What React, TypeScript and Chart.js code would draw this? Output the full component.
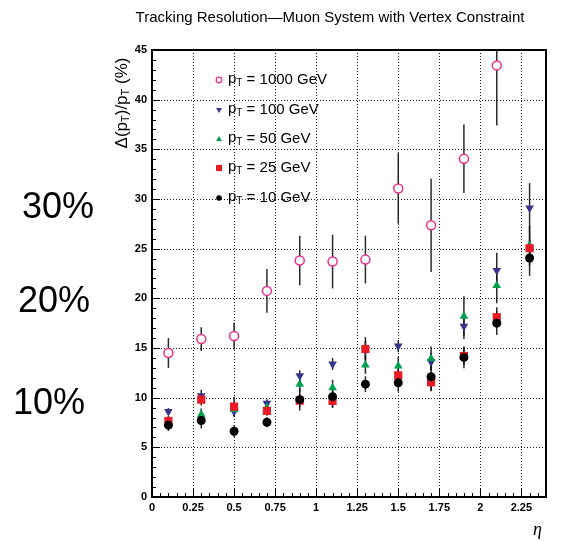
import React, { useEffect, useRef } from "react";
import { Chart, registerables } from "chart.js";

Chart.register(...registerables);

const W = 563;
const H = 542;

const ETA = [0.1, 0.3, 0.5, 0.7, 0.9, 1.1, 1.3, 1.5, 1.7, 1.9, 2.1, 2.3];

const PT1000 = [14.5, 15.9, 16.2, 20.75, 23.8, 23.7, 23.9, 31.05, 27.35, 34.05, 43.45, null];
const PT1000_ERR = [1.5, 1.2, 1.35, 2.2, 2.5, 2.7, 2.4, 3.55, 4.7, 3.45, 6.05, null];

const PT100 = [8.6, 10.2, 8.6, 9.45, 12.2, 13.4, 14.8, 15.2, 13.6, 17.2, 22.8, 29.1];
const PT100_ERR = [0.35, 0.6, 0.5, 0.4, 0.55, 0.6, 0.9, 0.6, 0.9, 1.3, 1.8, 2.5];

const PT50 = [7.6, 8.3, 8.8, 9.0, 11.35, 11.0, 13.3, 13.2, 13.95, 18.2, 21.3, 25.3];
const PT50_ERR = [0.5, 0.6, 0.6, 0.5, 0.8, 0.8, 0.9, 0.9, 1.2, 2.0, 1.8, 2.0];

const PT25 = [7.65, 9.8, 9.1, 8.67, 9.7, 9.68, 14.9, 12.25, 11.55, 14.2, 18.1, 25.05];
const PT25_ERR = [0.5, 0.6, 1.0, 0.5, 0.7, 0.7, 1.2, 0.9, 0.9, 0.9, 1.0, 1.5];

const PT10 = [7.23, 7.7, 6.62, 7.53, 9.8, 10.1, 11.36, 11.5, 12.1, 14.05, 17.5, 24.06];
const PT10_ERR = [0.6, 0.8, 0.6, 0.5, 1.1, 1.1, 0.8, 0.9, 1.4, 1.1, 1.2, 1.8];

const X_TICKS = [0, 0.25, 0.5, 0.75, 1, 1.25, 1.5, 1.75, 2, 2.25];
const X_TICK_LABELS = ["0", "0.25", "0.5", "0.75", "1", "1.25", "1.5", "1.75", "2", "2.25"];
const Y_TICKS = [0, 5, 10, 15, 20, 25, 30, 35, 40, 45];
const Y_TICK_LABELS = ["0", "5", "10", "15", "20", "25", "30", "35", "40", "45"];

const TITLE = "Tracking Resolution\u2014Muon System with Vertex Constraint";
const LEGEND_VALUES = ["1000", "100", "50", "25", "10"];
const SIDE_LABELS = ["30%", "20%", "10%"];

const PINK = "rgb(232,48,140)";
const BLUE = "rgb(52,52,140)";
const GREEN = "rgb(0,160,80)";
const RED = "rgb(232,28,36)";
const BLACK = "rgb(0,0,0)";

type Pt = { x: number; y: number; e: number };

function build(vals: (number | null)[], errs: (number | null)[]): Pt[] {
  const out: Pt[] = [];
  ETA.forEach((x, i) => {
    const v = vals[i];
    if (v !== null && v !== undefined) out.push({ x, y: v, e: (errs[i] as number) || 0 });
  });
  return out;
}

function drawMarker(ctx: CanvasRenderingContext2D, kind: string, x: number, y: number, r: number) {
  ctx.save();
  ctx.beginPath();
  if (kind === "openCircle") {
    ctx.arc(x, y, r, 0, Math.PI * 2);
    ctx.fillStyle = "#fff";
    ctx.fill();
    ctx.strokeStyle = PINK;
    ctx.lineWidth = 1.3;
    ctx.stroke();
  } else if (kind === "triDown") {
    ctx.moveTo(x - r, y - r * 0.7);
    ctx.lineTo(x + r, y - r * 0.7);
    ctx.lineTo(x, y + r);
    ctx.closePath();
    ctx.fillStyle = BLUE;
    ctx.fill();
  } else if (kind === "triUp") {
    ctx.moveTo(x - r, y + r * 0.7);
    ctx.lineTo(x + r, y + r * 0.7);
    ctx.lineTo(x, y - r);
    ctx.closePath();
    ctx.fillStyle = GREEN;
    ctx.fill();
  } else if (kind === "square") {
    ctx.rect(x - r, y - r, 2 * r, 2 * r);
    ctx.fillStyle = RED;
    ctx.fill();
  } else {
    ctx.arc(x, y, r, 0, Math.PI * 2);
    ctx.fillStyle = BLACK;
    ctx.fill();
  }
  ctx.restore();
}

const decoPlugin = {
  id: "deco",
  beforeDatasetsDraw(chart: any) {
    const { ctx, chartArea: a, scales } = chart;
    const xs = scales.x;
    const ys = scales.y;
    ctx.save();
    ctx.strokeStyle = "rgba(0,0,0,0.9)";
    ctx.lineWidth = 1;
    ctx.setLineDash([1, 2]);
    X_TICKS.forEach((v) => {
      if (v <= 0) return;
      const px = Math.round(xs.getPixelForValue(v)) + 0.5;
      ctx.beginPath();
      ctx.moveTo(px, a.top);
      ctx.lineTo(px, a.bottom);
      ctx.stroke();
    });
    Y_TICKS.forEach((v) => {
      if (v <= 0 || v >= 45) return;
      const py = Math.round(ys.getPixelForValue(v)) + 0.5;
      ctx.beginPath();
      ctx.moveTo(a.left, py);
      ctx.lineTo(a.right, py);
      ctx.stroke();
    });
    ctx.setLineDash([]);
    ctx.beginPath();
    ctx.rect(a.left, a.top, a.right - a.left, a.bottom - a.top);
    ctx.clip();
    ctx.strokeStyle = "rgba(20,20,20,0.9)";
    ctx.lineWidth = 1.5;
    chart.data.datasets.forEach((ds: any) => {
      ds.data.forEach((p: Pt) => {
        if (!p.e) return;
        const px = xs.getPixelForValue(p.x);
        ctx.beginPath();
        ctx.moveTo(px, ys.getPixelForValue(p.y - p.e));
        ctx.lineTo(px, ys.getPixelForValue(p.y + p.e));
        ctx.stroke();
      });
    });
    ctx.restore();
  },
  afterDatasetsDraw(chart: any) {
    const { ctx, chartArea: a, scales } = chart;
    const xs = scales.x;
    const ys = scales.y;
    ctx.save();
    ctx.strokeStyle = "#000";
    ctx.lineWidth = 2;
    ctx.strokeRect(a.left, a.top, a.right - a.left, a.bottom - a.top);
    ctx.lineWidth = 1;
    for (let i = 0; i <= 45; i++) {
      const py = Math.round(ys.getPixelForValue(i)) + 0.5;
      const len = i % 5 === 0 ? 8 : 4;
      ctx.beginPath();
      ctx.moveTo(a.left, py);
      ctx.lineTo(a.left + len, py);
      ctx.stroke();
    }
    for (let i = 0; i <= 48; i++) {
      const v = i * 0.05;
      const px = Math.round(xs.getPixelForValue(v)) + 0.5;
      const len = i % 5 === 0 ? 8 : 4;
      ctx.beginPath();
      ctx.moveTo(px, a.bottom);
      ctx.lineTo(px, a.bottom - len);
      ctx.stroke();
    }
    ctx.fillStyle = "#000";
    ctx.textAlign = "center";
    ctx.textBaseline = "middle";
    ctx.font = '15px "Liberation Sans", Arial, sans-serif';
    ctx.fillText(TITLE, 330, 18);
    ctx.font = 'italic 18px "Liberation Serif", serif';
    ctx.textAlign = "left";
    ctx.fillText("\u03b7", 533, 530);
    ctx.save();
    ctx.translate(122, 103);
    ctx.rotate(-Math.PI / 2);
    const big = '17px "Liberation Sans", Arial, sans-serif';
    const small = '11px "Liberation Sans", Arial, sans-serif';
    const parts: [string, string, number][] = [
      ["\u0394(p", big, 0],
      ["T", small, 4],
      [")/p", big, 0],
      ["T", small, 4],
      [" (%)", big, 0],
    ];
    let total = 0;
    parts.forEach(([t, f]) => {
      ctx.font = f;
      total += ctx.measureText(t).width;
    });
    let cx = -total / 2;
    ctx.textAlign = "left";
    ctx.textBaseline = "middle";
    parts.forEach(([t, f, dy]) => {
      ctx.font = f;
      ctx.fillText(t, cx, dy);
      cx += ctx.measureText(t).width;
    });
    ctx.restore();
    const kinds = ["openCircle", "triDown", "triUp", "square", "dot"];
    const rows = [80, 110, 139, 168, 198];
    const sizes = [2.8, 3, 3, 3, 2.8];
    kinds.forEach((k, i) => {
      drawMarker(ctx, k, 219, rows[i], sizes[i]);
      let tx = 228;
      ctx.textAlign = "left";
      ctx.textBaseline = "middle";
      ctx.fillStyle = "#000";
      ctx.font = '15px "Liberation Sans", Arial, sans-serif';
      ctx.fillText("p", tx, rows[i] - 1);
      tx += ctx.measureText("p").width;
      ctx.font = '10px "Liberation Sans", Arial, sans-serif';
      ctx.fillText("T", tx, rows[i] + 3);
      tx += ctx.measureText("T").width;
      ctx.font = '15px "Liberation Sans", Arial, sans-serif';
      ctx.fillText(" = " + LEGEND_VALUES[i] + " GeV", tx, rows[i]);
    });
    ctx.font = '36px "Liberation Sans", Arial, sans-serif';
    ctx.textAlign = "left";
    ctx.textBaseline = "middle";
    const sideX = [22, 18, 13];
    const sideY = [208, 302, 404];
    SIDE_LABELS.forEach((t, i) => ctx.fillText(t, sideX[i], sideY[i]));
    ctx.restore();
  },
};

export default function App() {
  const ref = useRef<HTMLCanvasElement>(null);
  useEffect(() => {
    document.body.style.margin = "0";
    const canvas = ref.current;
    if (!canvas) return;
    const datasets = [
      {
        label: "pT = 1000 GeV",
        data: build(PT1000, PT1000_ERR),
        pointStyle: "circle",
        pointRadius: 4.5,
        borderColor: PINK,
        backgroundColor: "#fff",
        borderWidth: 1.5,
        order: 5,
      },
      {
        label: "pT = 100 GeV",
        data: build(PT100, PT100_ERR),
        pointStyle: "triangle",
        rotation: 180,
        pointRadius: 5,
        borderColor: BLUE,
        backgroundColor: BLUE,
        borderWidth: 0,
        order: 4,
      },
      {
        label: "pT = 50 GeV",
        data: build(PT50, PT50_ERR),
        pointStyle: "triangle",
        pointRadius: 5,
        borderColor: GREEN,
        backgroundColor: GREEN,
        borderWidth: 0,
        order: 3,
      },
      {
        label: "pT = 25 GeV",
        data: build(PT25, PT25_ERR),
        pointStyle: "rect",
        pointRadius: 5.8,
        borderColor: RED,
        backgroundColor: RED,
        borderWidth: 0,
        order: 2,
      },
      {
        label: "pT = 10 GeV",
        data: build(PT10, PT10_ERR),
        pointStyle: "circle",
        pointRadius: 4.5,
        borderColor: BLACK,
        backgroundColor: BLACK,
        borderWidth: 0,
        order: 1,
      },
    ];
    const chart = new Chart(canvas, {
      type: "scatter",
      data: { datasets } as any,
      options: {
        responsive: false,
        animation: false,
        devicePixelRatio: 1,
        layout: { padding: { left: 0, top: 50, right: 17, bottom: 0 } },
        plugins: {
          legend: { display: false },
          title: { display: false },
          tooltip: { enabled: false },
        },
        scales: {
          x: {
            type: "linear",
            min: 0,
            max: 2.4,
            afterBuildTicks: (s: any) => {
              s.ticks = X_TICKS.map((v) => ({ value: v }));
            },
            afterFit: (s: any) => {
              s.height = 45;
            },
            ticks: {
              callback: (_v: any, i: number) => X_TICK_LABELS[i],
              font: { family: '"Liberation Sans", Arial, sans-serif', size: 11, weight: "bold" },
              color: "#000",
              padding: 4,
              maxRotation: 0,
              autoSkip: false,
            },
            grid: { display: false, drawTicks: false },
            border: { display: false },
          },
          y: {
            type: "linear",
            min: 0,
            max: 45,
            afterBuildTicks: (s: any) => {
              s.ticks = Y_TICKS.map((v) => ({ value: v }));
            },
            afterFit: (s: any) => {
              s.width = 152;
            },
            ticks: {
              callback: (_v: any, i: number) => Y_TICK_LABELS[i],
              font: { family: '"Liberation Sans", Arial, sans-serif', size: 11, weight: "bold" },
              color: "#000",
              padding: 5,
              autoSkip: false,
            },
            grid: { display: false, drawTicks: false },
            border: { display: false },
          },
        },
      } as any,
      plugins: [decoPlugin],
    });
    return () => chart.destroy();
  }, []);
  return (
    <div style={{ position: "absolute", left: 0, top: 0, width: W, height: H, background: "#fff" }}>
      <canvas ref={ref} width={W} height={H} style={{ width: W, height: H, display: "block" }} />
    </div>
  );
}
